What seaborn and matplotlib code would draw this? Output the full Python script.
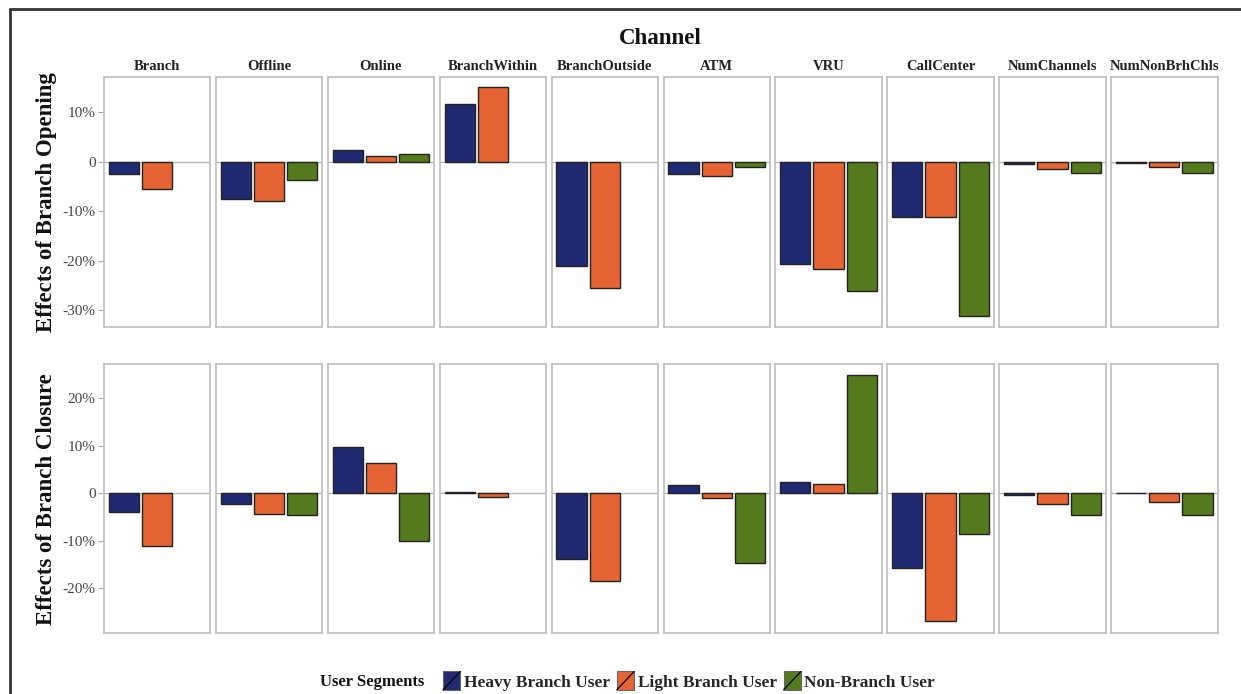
import numpy as np
import pandas as pd
import matplotlib
matplotlib.use("Agg")
import matplotlib.pyplot as plt
import seaborn as sns
from matplotlib.patches import Patch, Rectangle
from matplotlib.lines import Line2D
from matplotlib.legend_handler import HandlerPatch
from matplotlib.ticker import FuncFormatter

channels = ["Branch", "Offline", "Online", "BranchWithin", "BranchOutside",
            "ATM", "VRU", "CallCenter", "NumChannels", "NumNonBrhChls"]
segments = ["Heavy Branch User", "Light Branch User", "Non-Branch User"]
colors = ["#1f2a72", "#e66433", "#557a1d"]

# effects in percent, one list per segment (NaN = not estimated)
opening_heavy = [-2.4, -7.6, 2.4, 11.6, -21.0, -2.4, -20.7, -11.2, -0.4, -0.3]
opening_light = [-5.6, -8.0, 1.1, 15.1, -25.6, -2.9, -21.7, -11.2, -1.4, -1.0]
opening_non = [np.nan, -3.6, 1.6, np.nan, np.nan, -1.1, -26.2, -31.3, -2.3, -2.3]

closure_heavy = [-4.0, -2.2, 9.7, 0.35, -13.8, 1.8, 2.4, -15.8, -0.4, 0.1]
closure_light = [-11.2, -4.4, 6.4, -0.85, -18.4, -1.1, 2.0, -26.9, -2.2, -1.8]
closure_non = [np.nan, -4.5, -10.0, np.nan, np.nan, -14.8, 24.9, -8.5, -4.5, -4.5]

row_titles = ["Effects of Branch Opening", "Effects of Branch Closure"]
row_ticks = [[-30, -20, -10, 0, 10], [-20, -10, 0, 10, 20]]
row_limits = [(-33.5, 17.2), (-29.5, 27.2)]


def to_long(heavy, light, non):
    rows = []
    for vals, seg in zip([heavy, light, non], segments):
        for ch, v in zip(channels, vals):
            rows.append({"Channel": ch, "Segment": seg, "Effect": v})
    return pd.DataFrame(rows)


frames = [to_long(opening_heavy, opening_light, opening_non),
          to_long(closure_heavy, closure_light, closure_non)]


class SlashKey(HandlerPatch):
    def create_artists(self, legend, orig_handle, xdescent, ydescent,
                       width, height, fontsize, trans):
        rect = Rectangle((-xdescent, -ydescent), width, height,
                         facecolor=orig_handle.get_facecolor(),
                         edgecolor="#666666", lw=0.8, transform=trans)
        line = Line2D([-xdescent, -xdescent + width], [-ydescent, -ydescent + height],
                      color="black", lw=0.9, transform=trans)
        return [rect, line]


sns.set_theme(style="white")
plt.rcParams["font.family"] = ["Liberation Serif", "DejaVu Serif"]

W, H = 1241, 694
fig = plt.figure(figsize=(W / 100, H / 100), dpi=100)

left0, pw, pitch = 104, 106.4, 111.9
row_boxes = [(76.7, 327.3), (364.0, 633.3)]
pct = FuncFormatter(lambda v, _: "0" if v == 0 else f"{v:.0f}%")

for r, df in enumerate(frames):
    top, bot = row_boxes[r]
    for c, ch in enumerate(channels):
        ax = fig.add_axes([(left0 + c * pitch) / W, 1 - bot / H, pw / W, (bot - top) / H])
        sub = df[df["Channel"] == ch]
        sns.barplot(data=sub, x="Segment", y="Effect", hue="Segment",
                    order=segments, hue_order=segments, palette=colors,
                    saturation=1, width=0.91, edgecolor="#222222", linewidth=1.0,
                    legend=False, ax=ax, errorbar=None)
        ax.axhline(0, color="#b5b5b5", lw=1.0, zorder=0.5)
        ax.set_xlim(-0.6, 2.6)
        ax.set_ylim(*row_limits[r])
        ax.set_yticks(row_ticks[r])
        ax.set_xticks([])
        ax.set_xlabel("")
        ax.set_ylabel("")
        for s in ax.spines.values():
            s.set_color("#bdbdbd")
            s.set_linewidth(1.2)
        if c == 0:
            ax.yaxis.set_major_formatter(pct)
            ax.tick_params(axis="y", left=True, length=4, width=0.8,
                           color="#aaaaaa", labelsize=11, labelcolor="#444444", pad=2)
            ax.set_ylabel(row_titles[r], fontsize=16.5, fontweight="bold",
                          color="#111111", labelpad=4)
        else:
            ax.set_yticklabels([])
            ax.tick_params(axis="y", left=False)
        if r == 0:
            ax.set_title(ch, fontsize=10.5, fontweight="bold", color="#222222", pad=5)

fig.text(660.5 / W, 1 - 39 / H, "Channel", ha="center", va="center",
         fontsize=16.5, fontweight="bold", color="#111111")

# frame lines on the left and top
fig.add_artist(Line2D([10 / W, 1], [1 - 8.5 / H, 1 - 8.5 / H], color="#333333", lw=2))
fig.add_artist(Line2D([10 / W, 10 / W], [0, 1 - 8.5 / H], color="#333333", lw=2))

fig.text(320 / W, 1 - 686 / H, "User Segments", ha="left", va="baseline",
         fontsize=12, fontweight="bold", color="#111111")
handles = [Patch(facecolor=col) for col in colors]
fig.legend(handles, segments, loc="center left",
           bbox_to_anchor=(443 / W, 1 - 681 / H), ncol=3, frameon=False,
           handlelength=1.0, handleheight=1.25, handletextpad=0.2,
           columnspacing=0.4, borderaxespad=0, borderpad=0,
           prop={"size": 12.5, "weight": "bold"},
           handler_map={Patch: SlashKey()})

fig.savefig("out.png", dpi=100, facecolor="white")
